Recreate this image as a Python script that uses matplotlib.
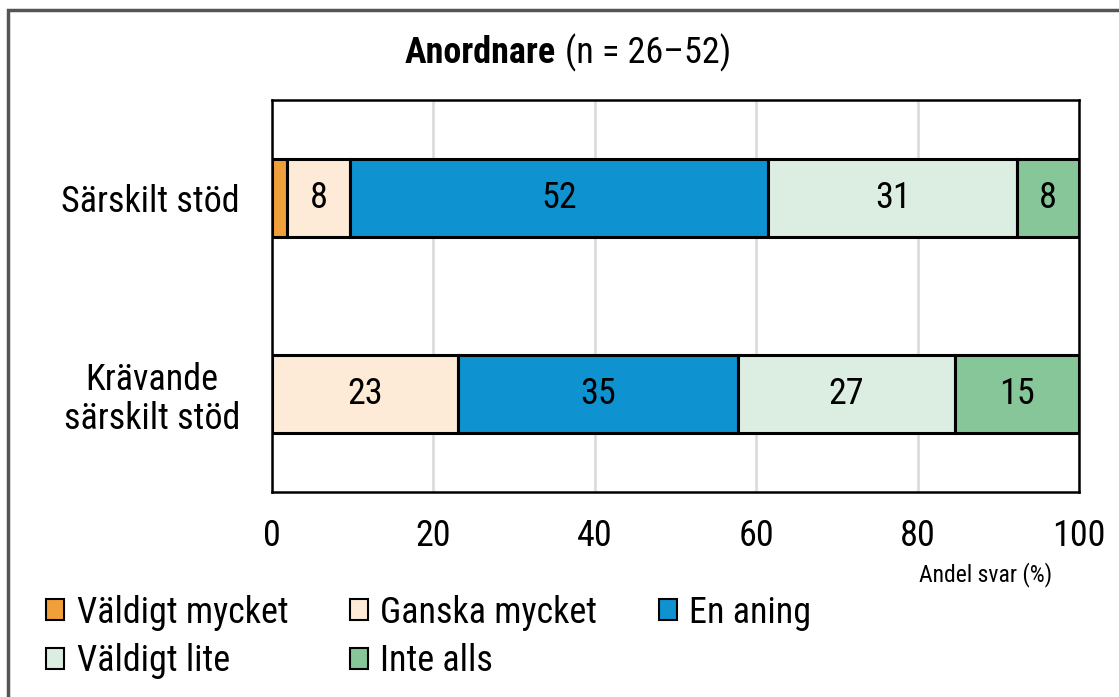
import matplotlib.pyplot as plt
import matplotlib.font_manager as fm
from matplotlib.patches import Rectangle
import numpy as np

# survey data (percent of answers)
categories = ["Krävande\nsärskilt stöd", "Särskilt stöd"]
series = ["Väldigt mycket", "Ganska mycket", "En aning", "Väldigt lite", "Inte alls"]
values = {
    "Väldigt mycket": [0.0, 1.9],
    "Ganska mycket": [23.1, 7.7],
    "En aning": [34.6, 51.9],
    "Väldigt lite": [26.9, 30.8],
    "Inte alls": [15.4, 7.7],
}
colors = ["#F0A03A", "#FDEBD8", "#0E92D0", "#DCEEE2", "#87C698"]
xticks = [0, 20, 40, 60, 80, 100]

# pick a narrow sans font if one is around (reference uses Arial Narrow)
names = {f.name for f in fm.fontManager.ttflist}
wanted = ["Liberation Sans Narrow", "Arial Narrow", "Roboto Condensed",
          "Archivo Narrow", "PT Sans Narrow", "Fira Sans Condensed",
          "IBM Plex Sans Condensed", "Liberation Sans"]
font = next(f for f in wanted if f in names or f == "Liberation Sans")
plt.rcParams["font.family"] = [font, "DejaVu Sans"]

FS = 26

fig = plt.figure(figsize=(11.19, 6.97), dpi=100)
ax = fig.add_axes([0.2431, 0.2941, 0.7212, 0.5624])

# outer frame of the figure
fig.patches.append(Rectangle((8 / 1119, -0.05), 1.2, 1 - 10 / 697 + 0.05,
                             transform=fig.transFigure, fill=False,
                             edgecolor="#555555", lw=2.5))

y = np.arange(len(categories))
left = np.zeros(len(categories))
handles = []
for name, col in zip(series, colors):
    vals = np.array(values[name])
    b = ax.barh(y, vals, left=left, height=0.4, color=col,
                edgecolor="black", linewidth=2.2, zorder=3)
    handles.append(b)
    for yi, v, l in zip(y, vals, left):
        if v >= 5:
            ax.text(l + v / 2, yi, f"{v:.0f}", ha="center", va="center",
                    fontsize=FS, zorder=4)
    left += vals

ax.set_xlim(0, 100)
ax.set_ylim(-0.5, 1.5)
ax.set_xticks(xticks)
ax.set_xticklabels([str(t) for t in xticks], fontsize=FS)
ax.set_yticks(y)
ax.set_yticklabels(categories, fontsize=FS, multialignment="center", linespacing=1.1)
ax.tick_params(length=0)
ax.tick_params(axis="x", pad=19)
ax.tick_params(axis="y", pad=23)
ax.grid(axis="x", color="#D9D9D9", lw=1.8, zorder=0)
for s in ax.spines.values():
    s.set_linewidth(1.8)

fig.text(0.881, 0.176, "Andel svar (%)", fontsize=17, ha="center", va="center")

# title: bold part + normal part
t1 = fig.text(405 / 1119, 1 - 53 / 697, "Anordnare", fontsize=FS,
              fontweight="bold", ha="left", va="center")
r = fig.canvas.get_renderer()
bb = t1.get_window_extent(r)
fig.text((bb.x1 + 9) / 1119, 1 - 53 / 697, "(n = 26–52)", fontsize=FS,
         ha="left", va="center")

# legend filled row-wise like the reference
order = [0, 3, 1, 4, 2]
leg = fig.legend([handles[i] for i in order], [series[i] for i in order],
                 loc="upper left", bbox_to_anchor=(46 / 1119, 0.147),
                 ncol=3, frameon=False, fontsize=FS, handlelength=0.5,
                 handleheight=0.5, handletextpad=0.35, columnspacing=1.7,
                 labelspacing=0.35, borderaxespad=0, borderpad=0)
for h in leg.legend_handles:
    h.set_linewidth(1.5)

fig.savefig("out.png", dpi=100)
